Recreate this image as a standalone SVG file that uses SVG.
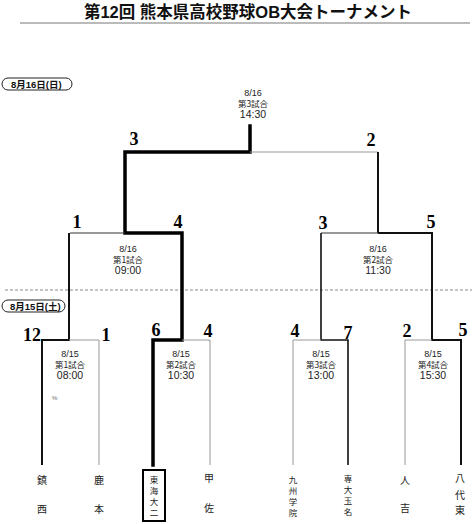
<svg xmlns="http://www.w3.org/2000/svg" width="472" height="524" viewBox="0 0 472 524">
<style>
.title{font-family:"Liberation Sans","Noto Sans CJK JP",sans-serif;font-weight:bold;font-size:16.5px;text-anchor:middle;fill:#111}
.day{font-family:"Liberation Sans","Noto Sans CJK JP",sans-serif;font-weight:bold;font-size:9.5px;fill:#111}
.pill{fill:#fff;stroke:#222;stroke-width:1}
.d{font-family:"Liberation Sans","Noto Sans CJK JP",sans-serif;font-size:9px;text-anchor:middle;fill:#222}
.g{font-family:"Noto Sans CJK JP",sans-serif;font-size:8.5px;text-anchor:middle;fill:#222}
.t{font-family:"Liberation Sans","Noto Sans CJK JP",sans-serif;font-size:10.5px;text-anchor:middle;fill:#222}
.s{font-family:"Liberation Serif","DejaVu Serif",serif;font-weight:bold;font-size:18px;text-anchor:middle;fill:#000}
.tm{font-family:"Noto Sans CJK JP",sans-serif;font-size:10px;text-anchor:middle;fill:#222}
.tm4{font-family:"Noto Sans CJK JP",sans-serif;font-size:8.5px;text-anchor:middle;fill:#222}
.thick{stroke:#000;stroke-width:3.5;fill:none;stroke-linecap:square}
.med{stroke:#111;stroke-width:2;fill:none}
.thin{stroke:#333;stroke-width:1;fill:none}
.faint{stroke:#999;stroke-width:1;fill:none}
</style>

<g id="title">
<text class="title" x="248" y="18">第12回 熊本県高校野球OB大会トーナメント</text>
<line x1="20" y1="23" x2="470" y2="23" stroke="#777" stroke-width="1"/>
</g>

<g id="day-0816">
<rect class="pill" x="2" y="78" width="70" height="12" rx="6"/>
<text class="day" x="11" y="88">8月16日(日)</text>
</g>
<g id="day-0815">
<line x1="5" y1="290" x2="472" y2="290" stroke="#888" stroke-width="1" stroke-dasharray="3 2"/>
<rect class="pill" x="2" y="300" width="63" height="12" rx="6"/>
<text class="day" x="10" y="310">8月15日(土)</text>
</g>

<g id="connectors">
<!-- final -->
<path class="thick" d="M250,126 V152 H125 V233 H182 V340 H153 V465"/>
<path class="faint" d="M250,152 H378"/>
<path class="med" d="M378,152 V233"/>
<!-- left semi -->
<path class="thin" d="M70,233 H125"/>
<path class="med" d="M69,233 V340 H42 V465"/>
<!-- right semi -->
<path class="thin" d="M321,233 H378"/>
<path class="med" d="M378,233 H432 V340 H461 V465"/>
<path class="med" d="M321,233 V340 H348 V465" style="stroke-width:1.6"/>
<!-- round 1 losers -->
<path class="faint" d="M69,340 H99 V465"/>
<path class="faint" d="M182,340 H210 V465"/>
<path class="faint" d="M321,340 H293 V465"/>
<path class="faint" d="M432,340 H405 V465"/>
</g>

<g id="match-final">
<text class="d" x="253" y="96">8/16</text>
<text class="g" x="253" y="107">第3試合</text>
<text class="t" x="253" y="118">14:30</text>
<text class="s" x="134" y="145">3</text>
<text class="s" x="371" y="146">2</text>
</g>

<g id="match-sf1">
<text class="d" x="128" y="252">8/16</text>
<text class="g" x="128" y="263">第1試合</text>
<text class="t" x="128" y="274">09:00</text>
<text class="s" x="77" y="228">1</text>
<text class="s" x="178" y="228">4</text>
</g>

<g id="match-sf2">
<text class="d" x="378" y="252">8/16</text>
<text class="g" x="378" y="263">第2試合</text>
<text class="t" x="378" y="274">11:30</text>
<text class="s" x="323" y="229">3</text>
<text class="s" x="431" y="228">5</text>
</g>

<g id="match-r1-1">
<text class="d" x="70" y="357">8/15</text>
<text class="g" x="70" y="368">第1試合</text>
<text class="t" x="70" y="379">08:00</text>
<text class="s" x="32" y="341">12</text>
<text class="s" x="106" y="341">1</text>
<text x="52" y="400" style="font-family:'Liberation Sans',sans-serif;font-size:6px;fill:#666">%</text>
</g>

<g id="match-r1-2">
<text class="d" x="181" y="357">8/15</text>
<text class="g" x="181" y="368">第2試合</text>
<text class="t" x="181" y="379">10:30</text>
<text class="s" x="156" y="336">6</text>
<text class="s" x="208" y="337">4</text>
</g>

<g id="match-r1-3">
<text class="d" x="321" y="357">8/15</text>
<text class="g" x="321" y="368">第3試合</text>
<text class="t" x="321" y="379">13:00</text>
<text class="s" x="295" y="337">4</text>
<text class="s" x="348" y="339">7</text>
</g>

<g id="match-r1-4">
<text class="d" x="433" y="357">8/15</text>
<text class="g" x="433" y="368">第4試合</text>
<text class="t" x="433" y="379">15:30</text>
<text class="s" x="407" y="337">2</text>
<text class="s" x="463" y="336">5</text>
</g>

<g id="team-chinzei">
<text class="tm" x="42" y="484">鎮</text>
<text class="tm" x="42" y="513">西</text>
</g>
<g id="team-kamoto">
<text class="tm" x="99" y="484">鹿</text>
<text class="tm" x="99" y="513">本</text>
</g>
<g id="team-tokaidai2">
<rect x="143" y="470" width="22" height="51" fill="none" stroke="#000" stroke-width="2"/>
<text class="tm4" x="154" y="483">東</text>
<text class="tm4" x="154" y="494">海</text>
<text class="tm4" x="154" y="505">大</text>
<text class="tm4" x="154" y="516">二</text>
</g>
<g id="team-kousa">
<text class="tm" x="209" y="482">甲</text>
<text class="tm" x="209" y="512">佐</text>
</g>
<g id="team-kyushugakuin">
<text class="tm4" x="293" y="483">九</text>
<text class="tm4" x="293" y="494">州</text>
<text class="tm4" x="293" y="505">学</text>
<text class="tm4" x="293" y="516">院</text>
</g>
<g id="team-sendaitamana">
<text class="tm4" x="348" y="482">専</text>
<text class="tm4" x="348" y="493">大</text>
<text class="tm4" x="348" y="504">玉</text>
<text class="tm4" x="348" y="515">名</text>
</g>
<g id="team-hitoyoshi">
<text class="tm" x="405" y="484">人</text>
<text class="tm" x="405" y="512">吉</text>
</g>
<g id="team-yatsushirohigashi">
<text class="tm" x="460" y="482">八</text>
<text class="tm" x="460" y="499">代</text>
<text class="tm" x="460" y="514">東</text>
</g>
</svg>
